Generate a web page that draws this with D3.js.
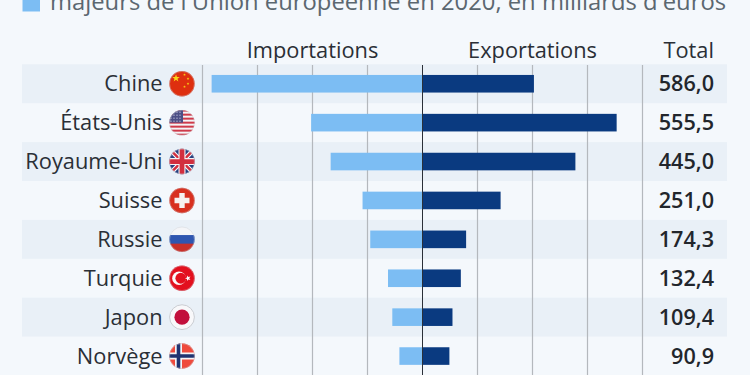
<!DOCTYPE html>
<html>
<head>
<meta charset="utf-8">
<script src="https://cdn.jsdelivr.net/npm/d3@7"></script>
<style>
html, body { margin: 0; padding: 0; background: #f4f8fc; overflow: hidden; }
svg { display: block; font-family: "Open Sans", sans-serif; }
</style>
</head>
<body>
<svg width="750" height="375"></svg>
<script>
var countries = ["Chine", "États-Unis", "Royaume-Uni", "Suisse", "Russie", "Turquie", "Japon", "Norvège"];
var imports = [383.4, 202.5, 167.0, 109.0, 95.0, 62.7, 54.9, 42.0];
var exports_ = [202.6, 353.0, 278.0, 142.0, 79.3, 69.7, 54.5, 48.9];
var totals = ["586,0", "555,5", "445,0", "251,0", "174,3", "132,4", "109,4", "90,9"];
var gridTicks = [-400, -300, -200, -100, 100, 200, 300, 400];
var flagCodes = ["cn", "us", "gb", "ch", "ru", "tr", "jp", "no"];

var svg = d3.select("svg");

var x = d3.scaleLinear().domain([-400, 400]).range([202.5, 642.5]);
var y = d3.scaleBand().domain(countries).range([64.3, 375.5]);
var barH = 17.6;
var flagX = 182, flagR = 12.7;

function box(g, yy, h, col) {
	g.append("rect").attr("x", -14).attr("y", yy).attr("width", 28).attr("height", h).attr("fill", col);
}
function star(g, cx, cy, r, col, rot) {
	var pts = d3.range(10).map(function(k) {
		var a = -Math.PI / 2 + k * Math.PI / 5 + (rot || 0);
		var rr = k % 2 == 0 ? r : r * 0.4;
		return [cx + rr * Math.cos(a), cy + rr * Math.sin(a)];
	});
	g.append("polygon").attr("points", pts.join(" ")).attr("fill", col);
}
function cross(g, points, w, col) {
	g.append("path").attr("d", points).attr("stroke", col).attr("stroke-width", w).attr("fill", "none");
}
var drawFlag = {
	cn: function(g) {
		box(g, -14, 28, "#de2f0f");
		star(g, -6, -5.5, 4, "#f9d616");
		star(g, 2.5, -9, 1.4, "#f9d616");
		star(g, 6, -5, 1.4, "#f9d616");
		star(g, 6, 0, 1.4, "#f9d616");
		star(g, 2.5, 3, 1.4, "#f9d616");
	},
	us: function(g) {
		box(g, -14, 28, "#f4f4f6");
		d3.range(7).forEach(function(k) { box(g, -13 + k * 4, 2, "#cf3a4a"); });
		g.append("rect").attr("x", -14).attr("y", -14).attr("width", 15).attr("height", 14).attr("fill", "#4d4f86");
		d3.range(4).forEach(function(r) {
			d3.range(4).forEach(function(k) {
				g.append("circle").attr("cx", -11 + k * 3).attr("cy", -10.5 + r * 3).attr("r", 0.55).attr("fill", "#d8d8ea");
			});
		});
	},
	gb: function(g) {
		box(g, -14, 28, "#27407f");
		cross(g, "M-14,-14L14,14M14,-14L-14,14", 4.6, "#f4f4f6");
		cross(g, "M-14,-14L14,14M14,-14L-14,14", 2.4, "#d22f3f");
		cross(g, "M0,-14V14M-14,0H14", 7, "#f4f4f6");
		cross(g, "M0,-14V14M-14,0H14", 4.8, "#d22f3f");
	},
	ch: function(g) {
		box(g, -14, 28, "#d8301f");
		cross(g, "M0,-7.5V7.5M-7.5,0H7.5", 5.4, "#f6f2f0");
	},
	ru: function(g) {
		box(g, -14, 10, "#f4f5f8");
		box(g, -4.3, 9, "#2f56b0");
		box(g, 4.3, 10, "#c9302a");
	},
	tr: function(g) {
		box(g, -14, 28, "#e3101e");
		g.append("circle").attr("cx", -3).attr("r", 6.8).attr("fill", "#fafafa");
		g.append("circle").attr("cx", -1.2).attr("r", 5.4).attr("fill", "#e3101e");
		star(g, 6, 0, 3, "#fafafa", -0.3);
	},
	jp: function(g) {
		box(g, -14, 28, "#f8f8fa");
		g.append("circle").attr("r", 7.6).attr("fill", "#c2103c");
	},
	no: function(g) {
		box(g, -14, 28, "#ef4a3c");
		cross(g, "M-3.5,-14V14M-14,0H14", 7, "#f4f4f6");
		cross(g, "M-3.5,-14V14M-14,0H14", 3.6, "#1f3270");
	}
};

// bandes
svg.append("g").selectAll("rect")
	.data(countries.filter(function(d, i) { return i % 2 == 0; }))
	.enter().append("rect")
		.attr("x", 22)
		.attr("y", function(d) { return y(d); })
		.attr("width", 705)
		.attr("height", y.bandwidth())
		.attr("fill", "#e9f0f7");

// grille
svg.append("g").selectAll("line")
	.data(gridTicks)
	.enter().append("line")
		.attr("x1", function(d) { return x(d); })
		.attr("x2", function(d) { return x(d); })
		.attr("y1", 65)
		.attr("y2", 375)
		.attr("stroke", "#b4b8bd")
		.attr("stroke-width", 1.2);

// barres
var bars = svg.append("g");
bars.selectAll(".imp")
	.data(countries)
	.enter().append("rect")
		.attr("class", "imp")
		.attr("x", function(d, i) { return x(-imports[i]); })
		.attr("y", function(d) { return y(d) + (y.bandwidth() - barH) / 2; })
		.attr("width", function(d, i) { return x(0) - x(-imports[i]); })
		.attr("height", barH)
		.attr("fill", "#7cbdf3");
bars.selectAll(".exp")
	.data(countries)
	.enter().append("rect")
		.attr("class", "exp")
		.attr("x", x(0))
		.attr("y", function(d) { return y(d) + (y.bandwidth() - barH) / 2; })
		.attr("width", function(d, i) { return x(exports_[i]) - x(0); })
		.attr("height", barH)
		.attr("fill", "#0a3a80");

// axe zero
svg.append("line")
	.attr("x1", x(0)).attr("x2", x(0))
	.attr("y1", 65).attr("y2", 375)
	.attr("stroke", "#2b3038")
	.attr("stroke-width", 1);

// textes
svg.append("g").selectAll("text")
	.data(countries)
	.enter().append("text")
		.attr("x", 162.5)
		.attr("y", function(d) { return y(d) + y.bandwidth() / 2 + 7.5; })
		.attr("text-anchor", "end")
		.attr("font-size", 21.8)
		.attr("fill", "#2a2f36")
		.text(function(d) { return d; });

svg.append("g").selectAll("text")
	.data(countries)
	.enter().append("text")
		.attr("x", 714)
		.attr("y", function(d) { return y(d) + y.bandwidth() / 2 + 7.5; })
		.attr("text-anchor", "end")
		.attr("font-size", 21.6)
		.attr("font-weight", 600)
		.attr("fill", "#22262c")
		.text(function(d, i) { return totals[i]; });

var head = [["Importations", 312.5, "middle"], ["Exportations", 532.5, "middle"], ["Total", 714, "end"]];
svg.append("g").selectAll("text")
	.data(head)
	.enter().append("text")
		.attr("x", function(d) { return d[1]; })
		.attr("y", 57.5)
		.attr("text-anchor", function(d) { return d[2]; })
		.attr("font-size", 21.8)
		.attr("fill", "#2a2f36")
		.text(function(d) { return d[0]; });

// legende + titre coupe
svg.append("rect").attr("x", 22.5).attr("y", -8).attr("width", 17.5).attr("height", 19.5).attr("fill", "#7cbdf3");
svg.append("text")
	.attr("x", 50)
	.attr("y", 10)
	.attr("font-size", 23.8)
	.attr("fill", "#5b6770")
	.text("majeurs de l'Union européenne en 2020, en milliards d'euros");

// drapeaux
var defs = svg.append("defs");
var flags = svg.append("g");
countries.forEach(function(c, i) {
	var cy = y(c) + y.bandwidth() / 2;
	defs.append("clipPath").attr("id", "clip" + i)
		.append("circle").attr("cx", 0).attr("cy", 0).attr("r", flagR);
	var f = flags.append("g").attr("transform", "translate(" + [flagX, cy] + ")");
	var g = f.append("g").attr("clip-path", "url(#clip" + i + ")");
	drawFlag[flagCodes[i]](g);
	f.append("circle").attr("r", flagR - 0.3).attr("fill", "none")
		.attr("stroke", "#c8ccd2").attr("stroke-width", flagCodes[i] == "jp" ? 1 : 0.4);
});
</script>
</body>
</html>
